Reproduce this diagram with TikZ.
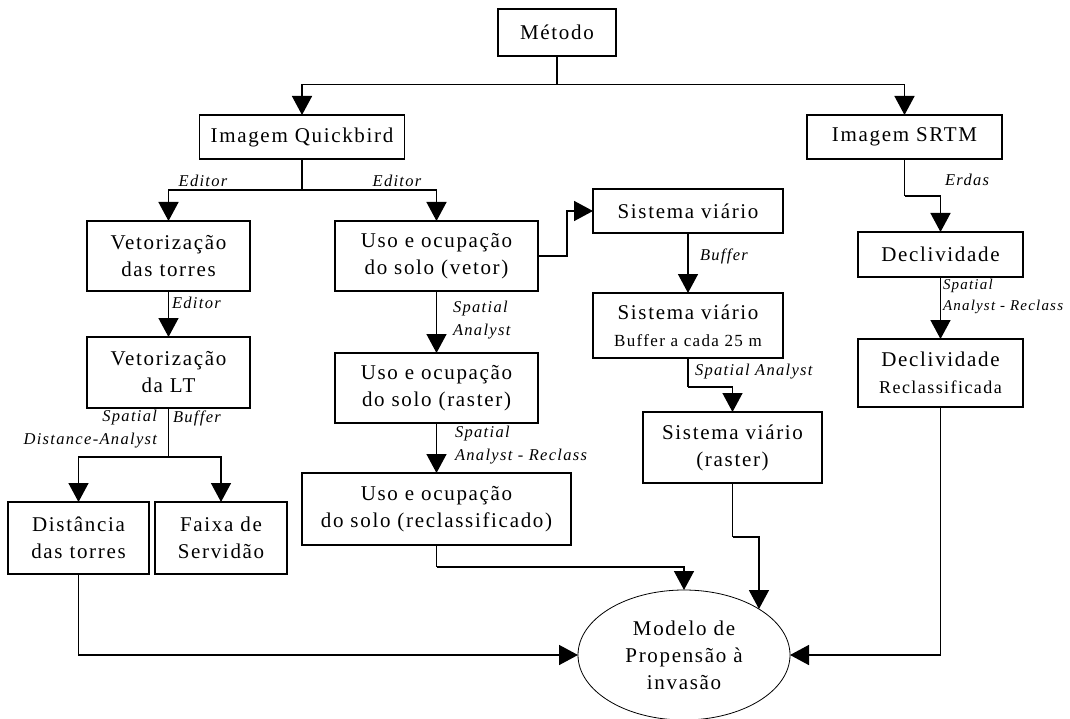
\documentclass[tikz,border=0pt]{standalone}
\usepackage{fontspec}
\setmainfont{Liberation Serif}
\newfontfamily\boxfont[LetterSpace=8]{Liberation Serif}
\newfontfamily\labfont[LetterSpace=8]{Liberation Serif}
\usetikzlibrary{arrows.meta,shapes.geometric,calc}
\begin{document}
\begin{tikzpicture}[x=1pt,y=-1pt,
  every node/.style={inner sep=0pt, outer sep=0pt},
  stepbox/.style={draw, line width=1.5pt, rectangle, align=center,
    font=\boxfont\fontsize{21}{27}\selectfont},
  lab/.style={font=\labfont\itshape\fontsize{16.5}{23}\selectfont, align=left},
  conn/.style={line width=1.5pt},
  arr/.style={conn, -{Triangle[length=19pt,width=20pt]}}]
\fill[white] (0,0) rectangle (1070,719);
\useasboundingbox (0,0) rectangle (1070,719);

% boxes
\node[stepbox, minimum width=118pt, minimum height=47pt] (metodo) at (557,32.5) {Método};
\node[stepbox, minimum width=205pt, minimum height=44pt] (qb) at (302,137) {Imagem Quickbird};
\node[stepbox, minimum width=195pt, minimum height=44pt] (srtm) at (904.5,137) {Imagem SRTM};
\node[stepbox, minimum width=163pt, minimum height=70pt] (torres) at (168.5,256) {Vetorização\\das torres};
\node[stepbox, minimum width=203pt, minimum height=70pt] (vetor) at (436.5,256) {Uso e ocupação\\do solo (vetor)};
\node[stepbox, minimum width=190pt, minimum height=44pt] (sv1) at (688,211) {Sistema viário};
\node[stepbox, minimum width=190pt, minimum height=65pt] (sv2) at (688,325.5) {Sistema viário\\{\fontsize{17}{20}\selectfont Buffer a cada 25 m}};
\node[stepbox, minimum width=165pt, minimum height=45pt] (decl) at (940.5,254.5) {Declividade};
\node[stepbox, minimum width=165pt, minimum height=68pt] (declr) at (940.5,373) {Declividade\\{\fontsize{18}{24}\selectfont Reclassificada}};
\node[stepbox, minimum width=163pt, minimum height=71pt] (lt) at (168.5,372.5) {Vetorização\\da LT};
\node[stepbox, minimum width=203pt, minimum height=70pt] (raster) at (436.5,388) {Uso e ocupação\\do solo (raster)};
\node[stepbox, minimum width=179pt, minimum height=71pt] (svr) at (732.5,447.5) {Sistema viário\\(raster)};
\node[stepbox, minimum width=269pt, minimum height=72pt] (recl) at (436.5,509) {Uso e ocupação\\do solo (reclassificado)};
\node[stepbox, minimum width=141pt, minimum height=72pt] (dist) at (78.5,538) {Distância\\das torres};
\node[stepbox, minimum width=132pt, minimum height=72pt] (faixa) at (221,538) {Faixa de\\Servidão};
\node[stepbox, ellipse, line width=0.8pt, minimum width=212pt, minimum height=130pt] (modelo) at (684,655) {Modelo de\\Propensão à\\invasão};

% connectors
\draw[conn] (metodo.south) -- ++(0,28.5) coordinate (j1);
\draw[arr] (j1) -| (qb.north);
\draw[arr] (j1) -| (srtm.north);

\draw[conn] (qb.south) -- ++(0,31) coordinate (j2);
\draw[arr] (j2) -| (torres.north);
\draw[arr] (j2) -| (vetor.north);

\draw[arr] (torres.south) -- (lt.north);

\draw[conn] (lt.south) -- ++(0,49) coordinate (j3);
\draw[arr] (j3) -| (dist.north);
\draw[arr] (j3) -| (faixa.north);

\draw[arr] (vetor.south) -- (raster.north);
\draw[arr] (raster.south) -- (recl.north);

\draw[arr] (vetor.east) -- ++(29,0) |- (sv1.west);
\draw[arr] (sv1.south) -- (sv2.north);
\draw[conn] (sv2.south) -- ++(0,29) coordinate (j4);
\draw[arr] (j4) -| (svr.north);

\draw[conn] (srtm.south) -- ++(0,37) coordinate (j5);
\draw[arr] (j5) -| (decl.north);
\draw[arr] (decl.south) -- (declr.north);

\draw[arr] (dist.south) |- (modelo.west);
\draw[conn] (recl.south) -- ++(0,22) coordinate (j6);
\draw[arr] (j6) -| (modelo.north);
\draw[conn] (svr.south) -- ++(0,54) coordinate (j7);
\draw[arr] (j7) -| (modelo.north east);
\draw[arr] (declr.south) |- (modelo.east);

% labels
\node[lab] (l1) at (203,181) {Editor};
\node[lab] (l2) at (397,181) {Editor};
\node[lab, anchor=west] (l3) at (172,303) {Editor};
\node[lab, anchor=east, align=right] (l4) at (157,429) {Spatial\\Distance-Analyst};
\node[lab, anchor=west] (l5) at (173,418) {Buffer};
\node[lab, anchor=west] (l6) at (453,320) {Spatial\\Analyst};
\node[lab, anchor=west] (l7) at (455,445.5) {Spatial\\Analyst - Reclass};
\node[lab, anchor=west] (l8) at (700,256) {Buffer};
\node[lab, anchor=west] (l9) at (695,372) {Spatial Analyst};
\node[lab, anchor=west] (l10) at (945,180) {Erdas};
\node[lab, anchor=west, font=\labfont\itshape\fontsize{15}{21}\selectfont] (l11) at (943,296.5) {Spatial\\Analyst - Reclass};
\end{tikzpicture}
\end{document}
